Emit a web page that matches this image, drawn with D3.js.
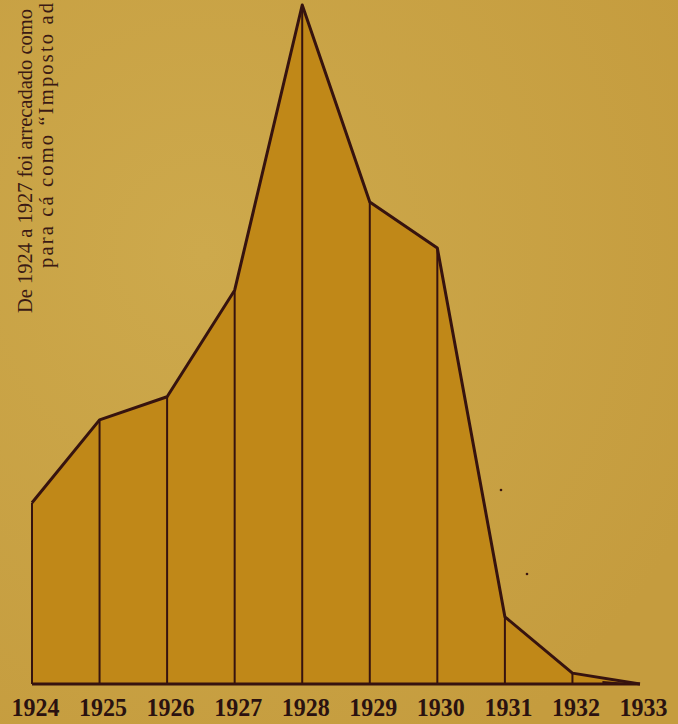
<!DOCTYPE html>
<html>
<head>
<meta charset="utf-8">
<script src="https://cdn.jsdelivr.net/npm/d3@7"></script>
<style>
  html, body { margin: 0; padding: 0; background: #c9a144; }
  svg { display: block; }
</style>
</head>
<body>
<svg id="chart" width="678" height="724"></svg>
<script>
const years = ["1924","1925","1926","1927","1928","1929","1930","1931","1932","1933"];
const values = [26.7, 38.9, 42.3, 58.0, 100, 71.0, 64.2, 9.9, 1.6, 0];
const noteLines = [
  "De 1924 a 1927 foi arrecadado como",
  "para cá como \u201cImposto ad"
];

const W = 678, H = 724;
const svg = d3.select("#chart");

const defs = svg.append("defs");
const bg = defs.append("radialGradient").attr("id","bg").attr("cx","0.3").attr("cy","0.35").attr("r","0.8");
bg.append("stop").attr("offset","0").attr("stop-color","#cda94c");
bg.append("stop").attr("offset","1").attr("stop-color","#c59c3e");
svg.append("rect").attr("width",W).attr("height",H).attr("fill","url(#bg)");

const x = d3.scalePoint().domain(years).range([32, 640]);
const y = d3.scaleLinear().domain([0, 100]).range([684, 5]);

const data = years.map((yr, i) => ({yr, v: values[i]}));

const area = d3.area().x(d => x(d.yr)).y0(y(0)).y1(d => y(d.v));
svg.append("path").datum(data).attr("d", area).attr("fill", "#c08818");

const stroke = "#36130f";
svg.selectAll("line.v").data(data.filter(d => d.v > 0)).join("line")
  .attr("class","v")
  .attr("x1", d => x(d.yr)).attr("x2", d => x(d.yr))
  .attr("y1", y(0)).attr("y2", d => y(d.v))
  .attr("stroke", stroke).attr("stroke-width", 2);

svg.append("line").attr("x1", x(years[0])).attr("x2", x(years[years.length-1]))
  .attr("y1", y(0)).attr("y2", y(0)).attr("stroke", stroke).attr("stroke-width", 3);

const line = d3.line().x(d => x(d.yr)).y(d => y(d.v));
svg.append("path").datum(data).attr("d", line).attr("fill","none")
  .attr("stroke", stroke).attr("stroke-width", 3).attr("stroke-linejoin","round");

// thick taper into the final point
const last = data.slice(-2);
svg.append("path")
  .attr("d", `M${x(last[0].yr) + 30},${y(0) - 3} L${x(last[1].yr)},${y(0)} L${x(last[0].yr) + 30},${y(0) + 1} Z`)
  .attr("fill", stroke);

// x axis labels
const axis = d3.axisBottom(x).tickSize(0).tickPadding(0);
const gx = svg.append("g").attr("transform", `translate(3, 0)`).call(axis);
gx.select(".domain").remove();
gx.selectAll("text")
  .attr("y", 716).attr("dy", 0)
  .attr("fill", "#2a1210")
  .style("font-family", "'Liberation Serif', 'DejaVu Serif', serif")
  .style("font-size", "26px").style("font-weight", "bold")
  .attr("textLength", 48).attr("lengthAdjust", "spacingAndGlyphs");

// rotated note
const note = svg.append("g");
note.selectAll("text").data(noteLines).join("text")
  .attr("transform", (d, i) => `translate(${i === 0 ? 32 : 53}, ${i === 0 ? 313 : 268}) rotate(-90)`)
  .attr("fill", "#3a1a14")
  .style("font-family", "'Liberation Serif', 'DejaVu Serif', serif")
  .style("font-size", "20.5px")
  .each(function(d, i) {
    if (i === 1) d3.select(this).attr("textLength", 265).attr("lengthAdjust", "spacing");
  })
  .text(d => d);

svg.selectAll("circle.s").data([[501, 490], [527, 574]]).join("circle")
  .attr("cx", d => d[0]).attr("cy", d => d[1]).attr("r", 1.3).attr("fill", "#3a1612");
</script>
</body>
</html>
